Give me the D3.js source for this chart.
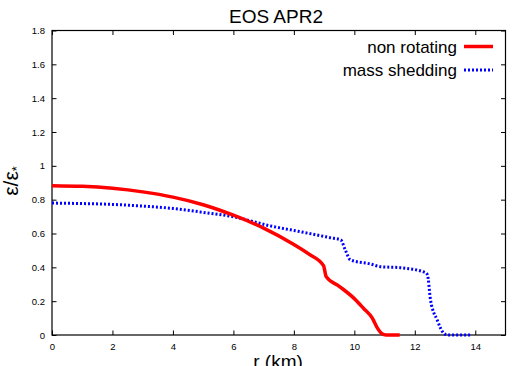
<!DOCTYPE html>
<html><head><meta charset="utf-8">
<script src="https://cdn.jsdelivr.net/npm/d3@7"></script>
<style>body{margin:0;background:#fff}svg{display:block}text{font-family:"Liberation Sans",Arial,sans-serif}</style>
</head><body>
<script>
const title = "EOS APR2";
const xTicks = [0,2,4,6,8,10,12,14];
const yTicks = [0,0.2,0.4,0.6,0.8,1,1.2,1.4,1.6,1.8];
const seriesNames = ["non rotating","mass shedding"];
const nonRotR = [0,1,2,3,4,5,6,7,8,8.5,8.98,9.07,9.5,10.0,10.3,10.6,10.75,10.9,11.05,11.5];
const nonRotE = [0.883,0.879,0.867,0.846,0.815,0.770,0.708,0.632,0.535,0.478,0.41,0.345,0.288,0.215,0.158,0.098,0.045,0.01,0,0];
const shedR = [0,1,2,3,4,5,6,7.22,8.32,9.2,9.55,9.7,9.87,10.53,10.86,11.52,12.35,12.42,12.52,12.74,12.96,13.1,13.84];
const shedE = [0.780,0.777,0.772,0.762,0.748,0.725,0.699,0.645,0.607,0.575,0.562,0.503,0.444,0.42,0.404,0.398,0.369,0.355,0.207,0.089,0.01,0,0];

const W=523,H=366, L=52,R=505.5,T=30.5,B=335;
const svg=d3.select("body").append("svg").attr("width",W).attr("height",H);
const x=d3.scaleLinear().domain([0,15]).range([L,R]);
const y=d3.scaleLinear().domain([0,1.8]).range([B,T]);

const g=svg.append("g");
const ax=g.append("g").attr("transform",`translate(0,${B})`).call(d3.axisBottom(x).tickValues(xTicks).tickSize(-4.5).tickPadding(8).tickFormat(d3.format("d")));
const ay=g.append("g").attr("transform",`translate(${L},0)`).call(d3.axisLeft(y).tickValues(yTicks).tickSize(-4.5).tickPadding(7).tickFormat(d=>d3.format("")(+d.toFixed(1))));
const at=g.append("g").attr("transform",`translate(0,${T})`).call(d3.axisTop(x).tickValues(xTicks).tickSize(-4.5).tickFormat(""));
const ar=g.append("g").attr("transform",`translate(${R},0)`).call(d3.axisRight(y).tickValues(yTicks).tickSize(-4.5).tickFormat(""));
[ax,ay,at,ar].forEach(a=>{a.select(".domain").remove();a.selectAll("line").attr("stroke","#000");a.selectAll("text").attr("font-size",9.5).attr("fill","#000").attr("font-family","Liberation Sans, Arial, sans-serif");});
g.append("rect").attr("x",L).attr("y",T).attr("width",R-L).attr("height",B-T).attr("fill","none").attr("stroke","#000").attr("stroke-width",1.2);

const line=d3.line().x(d=>x(d[0])).y(d=>y(d[1])).curve(d3.curveMonotoneX);
const d1=nonRotR.map((r,i)=>[r,nonRotE[i]]);
const d2=shedR.map((r,i)=>[r,shedE[i]]);
svg.append("path").datum(d2).attr("d",line).attr("fill","none").attr("stroke","#0000ff").attr("stroke-width",3).attr("stroke-dasharray","2,2");
svg.append("path").datum(d1).attr("d",line).attr("fill","none").attr("stroke","#ff0000").attr("stroke-width",3.5);

svg.append("text").attr("x",276).attr("y",22.5).attr("text-anchor","middle").attr("font-size",19).text(title);
svg.append("text").attr("x",278).attr("y",368).attr("text-anchor","middle").attr("font-size",19).text("r (km)");
const yl=svg.append("text").attr("transform","translate(18,181) rotate(-90)").attr("text-anchor","middle").attr("font-size",21);
yl.append("tspan").text("ε/ε");
yl.append("tspan").attr("font-size",13).attr("dy",3).text("*");

const leg=[{n:seriesNames[0],c:"#ff0000",dash:null,w:3.5,yy:46.5},{n:seriesNames[1],c:"#0000ff",dash:"2,2",w:3,yy:70}];
leg.forEach(l=>{
  svg.append("text").attr("x",457).attr("y",l.yy+6).attr("text-anchor","end").attr("font-size",17).text(l.n);
  svg.append("line").attr("x1",464).attr("x2",493).attr("y1",l.yy).attr("y2",l.yy).attr("stroke",l.c).attr("stroke-width",l.w).attr("stroke-dasharray",l.dash);
});
</script>
</body></html>
